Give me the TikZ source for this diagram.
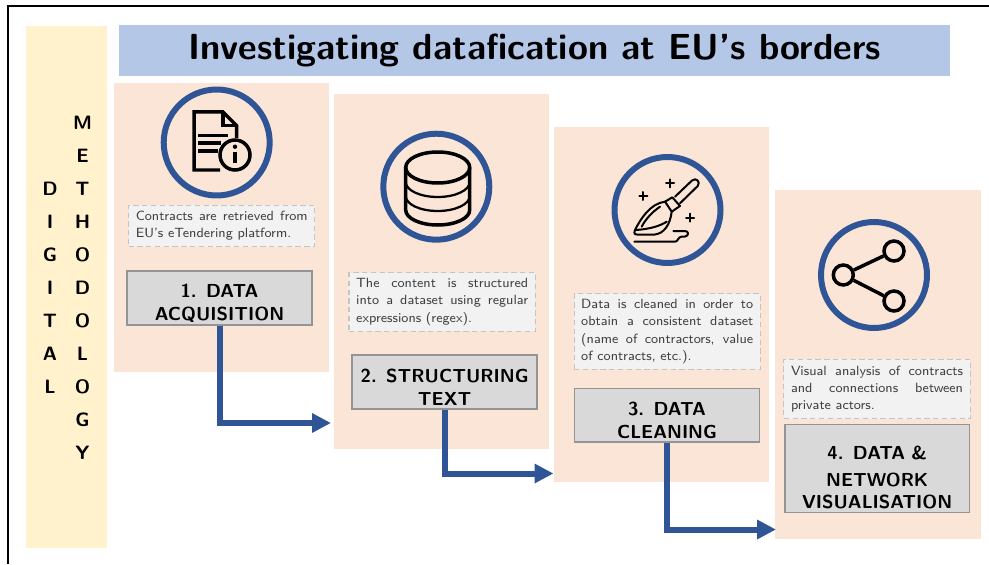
\documentclass[tikz,border=0pt]{standalone}
\usepackage{fontspec}
\usepackage{xcolor}
\usepackage{tikz}
\usetikzlibrary{arrows.meta}
\definecolor{panelpeach}{HTML}{FBE5D6}
\definecolor{sideyellow}{HTML}{FFF2CC}
\definecolor{titleblue}{HTML}{B4C7E7}
\definecolor{flowblue}{HTML}{2F5597}
\definecolor{boxgrey}{HTML}{D9D9D9}
\definecolor{noteedge}{HTML}{C4C4C4}
\tikzset{
    panel/.style={fill=panelpeach, minimum width=4.3cm, inner sep=0pt},
    ring/.style={circle, draw=flowblue, line width=.12cm, minimum size=2.12cm, inner sep=0pt},
    note/.style={fill=black!5, draw=noteedge, densely dashed, line width=.6pt, text=black!75,
        text width=3.44cm, inner xsep=.144cm, inner ysep=0pt, align=justify,
        font=\sffamily\fontsize{7.6}{9.9}\selectfont},
    stage/.style={fill=boxgrey, draw=black!42, line width=.9pt, text width=3.7cm, inner xsep=0pt,
        inner ysep=0pt, align=center, font=\sffamily\bfseries\fontsize{10.7}{12.7}\selectfont,
        execute at begin node={\rule{0pt}{13.5pt}}},
    flow/.style={draw=flowblue, line width=.12cm, -{Triangle[length=.38cm, width=.37cm]}},
    icon/.style={line width=.07cm, black},
    thinicon/.style={line width=.04cm, black, line cap=round, line join=round},
    sharedot/.style={circle, draw, line width=.07cm, minimum size=.4cm, inner sep=0pt},
    sideword/.style={align=center, font=\sffamily\bfseries\fontsize{11}{18.8}\selectfont}
}
\begin{document}
\begin{tikzpicture}[x=.02cm, y=-.02cm]
    \useasboundingbox (0,0) rectangle (989,564);
    \draw[line width=.045cm] (8,564) -- (8,6) -- (989,6);

    \node[fill=sideyellow, minimum width=1.62cm, minimum height=10.44cm] (side) at (66.5,287) {};
    \node[fill=titleblue, minimum width=16.62cm, minimum height=1.02cm, font=\sffamily\bfseries\fontsize{20.65}{24}\selectfont] (title) at (534.5,50.5) {Investigating datafication at EU's borders};
    \node[sideword, anchor=north] (digital) at (50,176) {D\\I\\G\\I\\T\\A\\L};
    \node[sideword, anchor=north] (method) at (82.5,110) {M\\E\\T\\H\\O\\D\\O\\L\\O\\G\\Y};

    \node[panel, minimum height=5.78cm] (panel1) at (221.25,227.5) {};
    \node[panel, minimum height=7.1cm] (panel2) at (441.5,271.5) {};
    \node[panel, minimum height=7.1cm] (panel3) at (661.5,304.5) {};
    \node[panel, minimum width=4.12cm, minimum height=6.98cm] (panel4) at (878,364.5) {};

    \node[ring] (ring1) at (216.7,142.5) {};
    \node[ring] (ring2) at (436.3,186.7) {};
    \node[ring] (ring3) at (667.5,210) {};
    \node[ring] (ring4) at (874,275) {};

    \node[note, minimum height=.83cm] (note1) at (221.75,225.8) {Contracts are retrieved from\linebreak EU's eTendering platform.};
    \node[note, minimum height=1.17cm] (note2) at (442.2,302) {The content is structured\linebreak into a dataset using regular\linebreak expressions (regex).};
    \node[note, minimum height=1.51cm] (note3) at (667.2,331.5) {Data is cleaned in order to\linebreak obtain a consistent dataset\linebreak (name of contractors, value\linebreak of contracts, etc.).};
    \node[note, minimum height=1.19cm] (note4) at (877,389) {Visual analysis of contracts\linebreak and connections between\linebreak private actors.};

    \node[stage, minimum height=1.08cm] (stage1) at (219.5,298) {1. DATA\\ACQUISITION};
    \node[stage, minimum height=1.07cm] (stage2) at (444.65,382) {2. STRUCTURING\\TEXT};
    \node[stage, minimum height=1.07cm] (stage3) at (667,415.3) {3. DATA\\CLEANING};
    \node[stage, minimum height=1.76cm, execute at begin node={\rule{0pt}{18pt}}] (stage4) at (877.2,468.3) {4. DATA \&\\[2.5pt]NETWORK\\VISUALISATION};

    \coordinate (tip1) at (331,423);
    \coordinate (tip2) at (553.5,473.5);
    \coordinate (tip3) at (776,529.5);
    \draw[flow] (stage1.south) |- (tip1);
    \draw[flow] (stage2.south) |- (tip2);
    \draw[flow] (stage3.south) |- (tip3);

    \draw[icon] (220,170) -- (194,170) -- (194,112) -- (223,112) -- (236.7,125.7) -- (236.7,138);
    \draw[icon] (223,112) -- (223,125.7) -- (236.7,125.7);
    \draw[icon] (198,135.7) -- (228,135.7);
    \draw[icon] (198,143) -- (221,143);
    \draw[icon] (198,151) -- (218,151);
    \node[circle, draw, line width=.07cm, minimum size=.6cm, inner sep=0pt] (info) at (235,155) {};
    \fill (235,146.7) circle (2.2);
    \draw[icon] (235,151.7) -- (235,163.3);

    \draw[icon] (437.7,167.5) ellipse (32 and 15.5);
    \draw[icon] (405.7,167.5) -- (405.7,210) arc (180:0:32 and 15) -- (469.7,167.5);
    \draw[line width=.045cm] (405.7,182) arc (180:0:32 and 15);
    \draw[line width=.045cm] (405.7,196) arc (180:0:32 and 15);

    \draw[thinicon] (675,196.7) -- (692,180.5) .. controls (696,177) and (701,182) .. (697.7,186) -- (680,203.3);
    \draw[thinicon] (665,201.7) -- (672.3,197.3) -- (680,206) -- (671.7,211.7) -- cycle;
    \draw[thinicon] (665,201.7) .. controls (650,203.3) and (640,220) .. (635,230) .. controls (634,233) and (634,234.5) .. (637,234.5) -- (655,234.5) .. controls (664,233.3) and (670,225) .. (671.7,211.7);
    \draw[thinicon] (660,206.7) .. controls (652,212) and (645,220) .. (641.7,226.7);
    \draw[thinicon] (666.7,221.7) .. controls (660,226) and (650,229) .. (636,230);
    \draw[thinicon] (634.3,241.7) -- (675,241.7) .. controls (678,241.7) and (678,236.7) .. (682,236.5) -- (685,236.5) .. controls (689,236) and (689,231) .. (685,231) -- (673.3,231);
    \draw[thinicon] (670,179.3) -- (670,187.3) (666,183.3) -- (674,183.3);
    \draw[thinicon] (643.3,192) -- (643.3,200) (639.3,196) -- (647.3,196);
    \draw[thinicon] (690,213.7) -- (690,221.7) (686,217.7) -- (694,217.7);

    \node[sharedot] (dot1) at (894,251) {};
    \node[sharedot] (dot2) at (843.3,275) {};
    \node[sharedot] (dot3) at (894,301) {};
    \draw[icon] (dot1) -- (dot2);
    \draw[icon] (dot2) -- (dot3);
\end{tikzpicture}
\end{document}
